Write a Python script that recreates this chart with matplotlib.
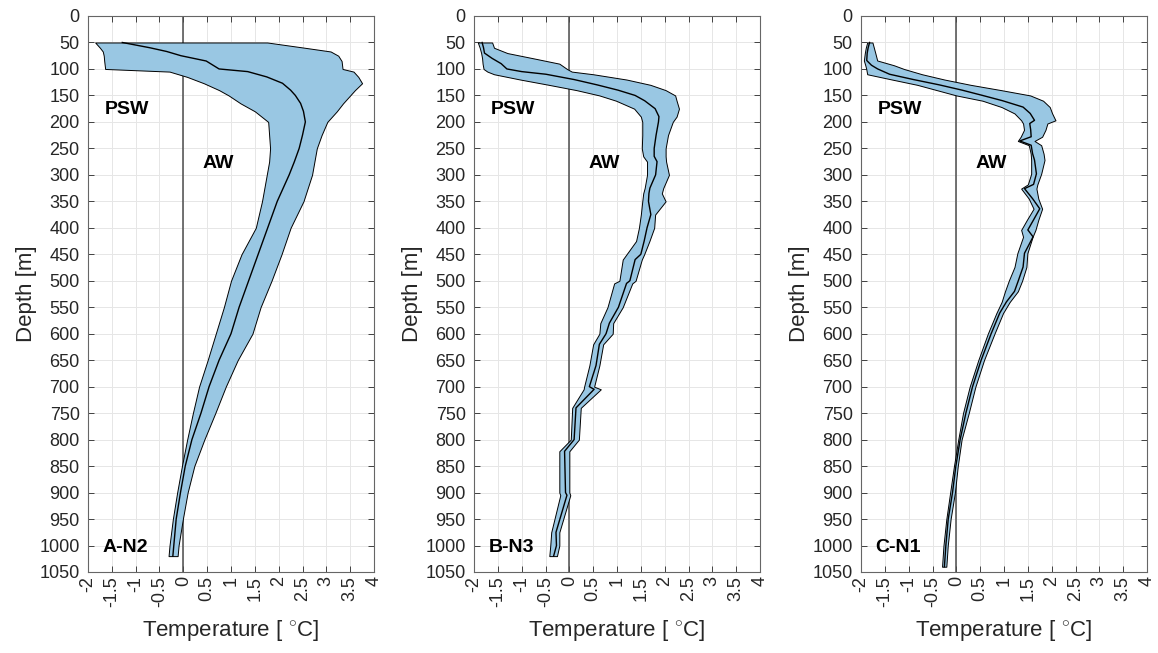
import numpy as np
import matplotlib
matplotlib.use('Agg')
import matplotlib.pyplot as plt

plt.rcParams['font.family'] = ['Liberation Sans', 'DejaVu Sans']
plt.rcParams['mathtext.fontset'] = 'custom'
plt.rcParams['mathtext.rm'] = 'Liberation Sans'

# ---- station A-N2 ----
depth_a = [50, 60, 67, 75, 85, 100, 105, 115, 127, 140, 150, 165, 180, 200, 225, 250, 275, 300,
           350, 400, 450, 500, 550, 600, 650, 700, 750, 800, 850, 900, 950, 1000, 1020]
low_a = [-1.85, -1.75, -1.69, -1.67, -1.66, -1.64, -0.29, 0.08, 0.43, 0.75, 0.95, 1.20, 1.50, 1.78,
         1.80, 1.82, 1.80, 1.75, 1.65, 1.52, 1.22, 1.00, 0.85, 0.68, 0.51, 0.33, 0.20, 0.08, -0.03,
         -0.13, -0.22, -0.29, -0.31]
mean_a = [-1.28, -0.70, -0.35, -0.05, 0.48, 0.75, 1.35, 1.75, 2.08, 2.25, 2.35, 2.46, 2.52, 2.56,
          2.50, 2.43, 2.33, 2.22, 1.97, 1.77, 1.57, 1.37, 1.17, 1.00, 0.75, 0.54, 0.37, 0.18, 0.04,
          -0.06, -0.15, -0.20, -0.22]
high_a = [1.76, 2.55, 3.09, 3.25, 3.32, 3.34, 3.57, 3.67, 3.75, 3.60, 3.50, 3.35, 3.22, 3.02,
          2.90, 2.80, 2.75, 2.70, 2.52, 2.25, 2.06, 1.85, 1.62, 1.45, 1.14, 0.89, 0.67, 0.44, 0.23,
          0.09, -0.01, -0.10, -0.12]

# ---- station B-N3 ----
depth_b = [50, 60, 70, 80, 90, 100, 105, 110, 120, 130, 140, 150, 160, 175, 190, 200, 225, 250,
           265, 275, 300, 325, 335, 350, 375, 400, 425, 450, 460, 500, 505, 550, 580, 600, 620,
           660, 700, 705, 740, 800, 822, 900, 905, 975, 1000, 1020]
low_b = [-1.92, -1.88, -1.85, -1.83, -1.82, -1.80, -1.72, -1.58, -1.03, -0.43, 0.15, 0.63, 0.98,
         1.36, 1.50, 1.53, 1.53, 1.52, 1.55, 1.63, 1.63, 1.58, 1.55, 1.53, 1.50, 1.46, 1.40, 1.20,
         1.12, 1.05, 0.94, 0.80, 0.65, 0.63, 0.50, 0.42, 0.31, 0.30, 0.06, 0.03, -0.21, -0.21,
         -0.19, -0.38, -0.40, -0.42]
mean_b = [-1.83, -1.80, -1.78, -1.62, -1.43, -1.31, -1.00, -0.49, 0.10, 0.58, 1.02, 1.38, 1.58,
          1.80, 1.88, 1.87, 1.82, 1.78, 1.78, 1.84, 1.81, 1.69, 1.67, 1.66, 1.71, 1.63, 1.57, 1.50,
          1.38, 1.27, 1.20, 1.03, 0.84, 0.77, 0.63, 0.56, 0.42, 0.52, 0.14, 0.10, -0.10, -0.08,
          -0.05, -0.28, -0.27, -0.33]
high_b = [-1.62, -1.58, -1.30, -0.75, -0.21, -0.05, 0.05, 0.50, 1.20, 1.70, 2.02, 2.22, 2.25,
          2.30, 2.25, 2.17, 2.07, 2.02, 2.02, 2.03, 2.09, 1.97, 1.94, 2.02, 1.80, 1.78, 1.68, 1.57,
          1.52, 1.39, 1.32, 1.12, 0.92, 0.91, 0.71, 0.63, 0.52, 0.66, 0.24, 0.20, 0.00, 0.00,
          0.02, -0.21, -0.21, -0.26]

# ---- station C-N1 ----
depth_c = [50, 60, 70, 84, 93, 100, 110, 120, 130, 140, 150, 160, 172, 184, 197, 203, 215, 228,
           236, 244, 260, 272, 298, 318, 326, 345, 364, 385, 404, 417, 448, 474, 500, 520, 540,
           561, 600, 650, 700, 750, 800, 850, 900, 950, 1000, 1040]
low_c = [-1.87, -1.90, -1.92, -1.94, -1.91, -1.89, -1.87, -1.35, -0.82, -0.41, 0.00, 0.55, 0.95,
         1.22, 1.36, 1.40, 1.42, 1.35, 1.29, 1.52, 1.56, 1.57, 1.57, 1.50, 1.36, 1.52, 1.62, 1.48,
         1.36, 1.40, 1.28, 1.22, 1.10, 1.02, 0.95, 0.84, 0.66, 0.46, 0.28, 0.14, 0.04, -0.05,
         -0.13, -0.21, -0.27, -0.30]
mean_c = [-1.82, -1.85, -1.87, -1.88, -1.78, -1.65, -1.40, -0.90, -0.36, 0.12, 0.55, 0.97, 1.40,
          1.55, 1.64, 1.54, 1.56, 1.57, 1.33, 1.57, 1.60, 1.64, 1.68, 1.62, 1.43, 1.60, 1.75, 1.62,
          1.50, 1.61, 1.43, 1.40, 1.30, 1.22, 1.05, 0.91, 0.73, 0.52, 0.34, 0.20, 0.08, -0.01,
          -0.08, -0.17, -0.22, -0.25]
high_c = [-1.76, -1.73, -1.70, -1.66, -1.31, -1.10, -0.72, -0.25, 0.30, 0.94, 1.55, 1.82, 1.96,
          2.01, 2.08, 1.91, 1.87, 1.80, 1.64, 1.78, 1.83, 1.85, 1.78, 1.70, 1.68, 1.72, 1.80, 1.72,
          1.66, 1.60, 1.49, 1.47, 1.38, 1.29, 1.12, 0.98, 0.80, 0.58, 0.40, 0.26, 0.11, 0.03,
          -0.03, -0.12, -0.18, -0.21]

stations = ['A-N2', 'B-N3', 'C-N1']
profiles = [(depth_a, low_a, mean_a, high_a),
            (depth_b, low_b, mean_b, high_b),
            (depth_c, low_c, mean_c, high_c)]

fill_col = (0.6, 0.78, 0.89)
dark = '0.15'

fig = plt.figure(figsize=(11.58, 6.53), dpi=100)
lefts = [88, 474, 861]
for i in range(3):
    ax = fig.add_axes([lefts[i] / 1158, 81 / 653, 286 / 1158, 556 / 653])
    d, lo, mn, hi = profiles[i]
    ax.fill_betweenx(d, lo, hi, facecolor=fill_col, edgecolor='k', linewidth=0.7, zorder=3)
    ax.plot(mn, d, color='k', linewidth=1.0, zorder=4)
    ax.axvline(0, color='0.3', linewidth=1.1, zorder=2)

    ax.set_xlim(-2, 4)
    ax.set_ylim(1050, 0)
    ax.set_xticks(np.arange(-2, 4.01, 0.5))
    ax.set_xticklabels(['%g' % v for v in np.arange(-2, 4.01, 0.5)], rotation=90)
    ax.set_yticks(np.arange(0, 1051, 50))
    ax.tick_params(direction='in', top=True, right=True, labelsize=13, colors=dark,
                   length=4, width=0.6)
    ax.tick_params(axis='x', pad=3)
    ax.tick_params(axis='y', pad=6)
    ax.grid(True, color='0.9', linewidth=0.7, zorder=0)
    ax.set_axisbelow(True)
    for s in ax.spines.values():
        s.set_color('0.4')
        s.set_linewidth(0.8)

    ax.set_ylabel('Depth [m]', fontsize=16, color=dark, labelpad=2)
    ax.set_xlabel(r'Temperature [ $^{\circ}$C]', fontsize=16, color=dark, labelpad=8)

    ax.text(-1.65, 177, 'PSW', fontsize=14, fontweight='bold', va='center', ha='left', zorder=5)
    ax.text(0.4, 278, 'AW', fontsize=14, fontweight='bold', va='center', ha='left', zorder=5)
    ax.text(-1.7, 1003, stations[i], fontsize=14, fontweight='bold', va='center', ha='left',
            zorder=5)

fig.savefig('out.png', dpi=100)
plt.close(fig)
